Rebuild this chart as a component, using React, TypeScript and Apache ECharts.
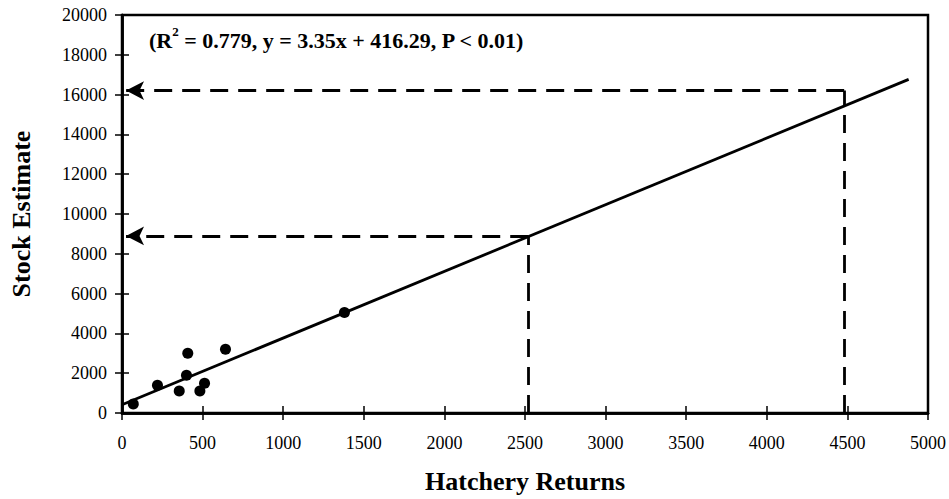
import React, { useEffect, useRef } from "react";
import * as echarts from "echarts";

const hatcheryReturns = [70, 220, 355, 408, 400, 483, 512, 642, 1380];
const stockEstimate = [450, 1400, 1100, 3000, 1900, 1100, 1500, 3200, 5050];
const fitSlope = 3.35;
const fitIntercept = 416.29;
const fitRange = [0, 4880];
// projections: [hatchery value, stock value read on the fit]
const projX = [2520, 4480];
const projY = [8900, 16200];
const xTicks = { min: 0, max: 5000, interval: 500 };
const yTicks = { min: 0, max: 20000, interval: 2000 };

const FONT = "Liberation Serif";

export default function App() {
  const ref = useRef<HTMLDivElement>(null);
  useEffect(() => {
    if (!ref.current) return;
    const chart = echarts.init(ref.current, null, { renderer: "svg" });
    const scatterData = hatcheryReturns.map((x, i) => [x, stockEstimate[i]]);
    const fitData = fitRange.map((x) => [x, fitSlope * x + fitIntercept]);
    const dash = [18, 10];
    const markData: any[] = [];
    projX.forEach((px, i) => {
      const py = projY[i];
      markData.push([
        { coord: [px, 0], symbol: "none" },
        { coord: [px, py], symbol: "none" },
      ]);
      markData.push([
        { coord: [px, py], symbol: "none" },
        { coord: [25, py], symbol: "arrow" },
      ]);
    });
    const axisCommon = {
      axisLine: { show: true, lineStyle: { color: "#000", width: 2.5 } },
      splitLine: { show: false },
    };
    const tickStyle = { color: "#000", width: 1.5 };
    chart.setOption({
      animation: false,
      backgroundColor: "#fff",
      grid: {
        left: 120,
        right: 15,
        top: 15,
        bottom: 80,
        show: true,
        borderColor: "#000",
        borderWidth: 2.5,
        backgroundColor: "transparent",
      },
      xAxis: [
        {
          type: "value",
          ...xTicks,
          ...axisCommon,
          axisTick: { show: true, inside: false, length: 7, lineStyle: tickStyle },
          axisLabel: {
            color: "#000",
            fontFamily: FONT,
            fontSize: 18,
            margin: 21,
            formatter: (v: number) => String(v),
          },
          name: "Hatchery Returns",
          nameLocation: "middle",
          nameGap: 55,
          nameTextStyle: { color: "#000", fontFamily: FONT, fontSize: 26, fontWeight: "bold" },
        },
        {
          type: "value",
          position: "bottom",
          ...xTicks,
          ...axisCommon,
          axisTick: { show: true, inside: true, length: 7, lineStyle: tickStyle },
          axisLabel: { show: false },
        },
      ],
      yAxis: [
        {
          type: "value",
          ...yTicks,
          ...axisCommon,
          axisTick: { show: true, inside: false, length: 7, lineStyle: tickStyle },
          axisLabel: {
            color: "#000",
            fontFamily: FONT,
            fontSize: 18,
            margin: 15,
            formatter: (v: number) => String(v),
          },
          name: "Stock Estimate",
          nameLocation: "middle",
          nameGap: 88,
          nameTextStyle: { color: "#000", fontFamily: FONT, fontSize: 26, fontWeight: "bold" },
        },
        {
          type: "value",
          position: "left",
          ...yTicks,
          ...axisCommon,
          axisTick: { show: true, inside: true, length: 7, lineStyle: tickStyle },
          axisLabel: { show: false },
        },
      ],
      series: [
        {
          type: "line",
          data: fitData,
          symbol: "none",
          lineStyle: { color: "#000", width: 2.8 },
          z: 3,
          markLine: {
            silent: true,
            symbolSize: [14, 18],
            label: { show: false },
            lineStyle: { color: "#000", width: 2.8, type: dash },
            data: markData,
          },
        },
        {
          type: "scatter",
          data: scatterData,
          symbol: "circle",
          symbolSize: 11,
          itemStyle: { color: "#000", opacity: 1 },
          z: 4,
        },
      ],
      graphic: [
        {
          type: "text",
          left: 149,
          top: 25,
          style: {
            text: "{a|(R}{s|2}{a| = 0.779, y = 3.35x + 416.29, P < 0.01)}",
            rich: {
              a: { fontFamily: FONT, fontSize: 22, fontWeight: "bold", fill: "#000", verticalAlign: "bottom", lineHeight: 26 },
              s: { fontFamily: FONT, fontSize: 13, fontWeight: "bold", fill: "#000", verticalAlign: "top", lineHeight: 26, padding: [0, 0, 10, 0] },
            },
          },
        },
      ],
    });
    return () => chart.dispose();
  }, []);
  return <div ref={ref} style={{ position: "absolute", left: 0, top: 0, width: 949, height: 499 }} />;
}
